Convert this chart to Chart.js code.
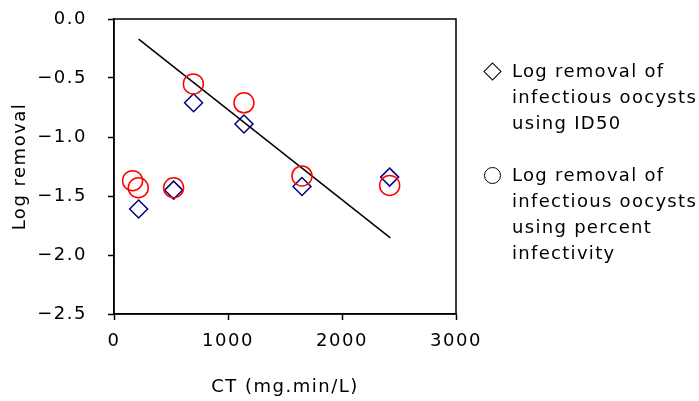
<!DOCTYPE html>
<html>
<head>
<meta charset="utf-8">
<script src="https://cdn.jsdelivr.net/npm/chart.js@4"></script>
<style>
  html, body { margin: 0; padding: 0; background: #fff; }
  #wrap { position: relative; width: 699px; height: 401px; }
  #legend { position: absolute; left: 480px; top: 58px; font-family: "DejaVu Sans", sans-serif; font-size: 18px; line-height: 26px; color: #000; letter-spacing: 1.3px; white-space: nowrap; }
  .item { position: relative; padding-left: 32px; margin-bottom: 26px; }
  .sym { position: absolute; left: 4px; top: 6px; width: 13px; height: 13px; border: 1px solid #000; box-sizing: border-box; }
  .dia { transform: rotate(45deg); left: 6px; top: 7px; }
  .circ { border-radius: 50%; width: 17px; height: 17px; left: 4px; top: 5px; }
</style>
</head>
<body>
<div id="wrap">
  <canvas id="c" width="699" height="401"></canvas>
  <div id="legend">
    <div class="item"><span class="sym dia"></span>Log removal of<br>infectious oocysts<br>using ID50</div>
    <div class="item"><span class="sym circ"></span>Log removal of<br>infectious oocysts<br>using percent<br>infectivity</div>
  </div>
</div>
<script>
// ===== 데이터 =====
var ID50_X = [216, 523, 698, 1140, 1649, 2418];
var ID50_Y = [-1.61, -1.45, -0.71, -0.89, -1.42, -1.34];
var PCT_X = [163, 213, 523, 696, 1140, 1649, 2418];
var PCT_Y = [-1.37, -1.43, -1.43, -0.55, -0.71, -1.33, -1.41];
var FIT_X = [216, 2424];
var FIT_Y = [-0.17, -1.855];
var X_TICKS = [0, 1000, 2000, 3000];
var Y_TICKS = [0, -0.5, -1.0, -1.5, -2.0, -2.5];

function pts(xs, ys) {
  var out = [];
  for (var i = 0; i < xs.length; i++) out.push({ x: xs[i], y: ys[i] });
  return out;
}

var FONT = { family: "'DejaVu Sans', sans-serif", size: 18 };

// 글자 간격 (원본 폰트가 넓어서)
var spacing = {
  id: "spacing",
  beforeLayout: function (chart) { chart.ctx.letterSpacing = "1.5px"; },
  beforeDraw: function (chart) { chart.ctx.letterSpacing = "1.5px"; }
};

// 플롯 영역 테두리
var frame = {
  id: "frame",
  afterDraw: function (chart) {
    var a = chart.chartArea, ctx = chart.ctx;
    ctx.save();
    ctx.strokeStyle = "#000";
    ctx.lineWidth = 1.5;
    ctx.strokeRect(a.left, a.top, a.right - a.left, a.bottom - a.top);
    ctx.restore();
  }
};

new Chart(document.getElementById("c"), {
  type: "scatter",
  data: {
    datasets: [
      { label: "fit", data: pts(FIT_X, FIT_Y), showLine: true, borderColor: "#000", borderWidth: 1.5, pointRadius: 0, order: 3 },
      { label: "ID50", data: pts(ID50_X, ID50_Y), pointStyle: "rectRot", pointRadius: 9, borderColor: "#000080", borderWidth: 1.5, backgroundColor: "rgba(0,0,0,0)", order: 2 },
      { label: "pct", data: pts(PCT_X, PCT_Y), pointStyle: "circle", pointRadius: 10, borderColor: "#FF0000", borderWidth: 1.5, backgroundColor: "rgba(0,0,0,0)", order: 1 }
    ]
  },
  options: {
    responsive: false,
    animation: false,
    events: [],
    layout: { padding: { left: 0, top: 19, right: 243, bottom: 0 } },
    plugins: { legend: { display: false }, tooltip: { enabled: false } },
    scales: {
      x: {
        type: "linear", min: 0, max: 3000,
        afterBuildTicks: function (s) { s.ticks = X_TICKS.map(function (v) { return { value: v }; }); },
        afterFit: function (s) { s.height = 87; s.paddingLeft = 0; s.paddingRight = 0; },
        grid: { drawOnChartArea: false, color: "#000", tickLength: 6, tickWidth: 1.5 },
        border: { color: "#000", width: 1.5 },
        ticks: { color: "#000", font: FONT, padding: 11, maxRotation: 0, callback: function (v) { return String(v); } },
        title: { display: true, text: "CT (mg.min/L)", color: "#000", font: FONT, padding: { top: 0, bottom: 3 } }
      },
      y: {
        type: "linear", min: -2.5, max: 0,
        afterBuildTicks: function (s) { s.ticks = Y_TICKS.map(function (v) { return { value: v }; }); },
        afterFit: function (s) { s.width = 114; s.paddingTop = 0; s.paddingBottom = 0; },
        grid: { drawOnChartArea: false, color: "#000", tickLength: 6, tickWidth: 1.5 },
        border: { color: "#000", width: 1.5 },
        ticks: { color: "#000", font: FONT, padding: 21, callback: function (v) { return (v < 0 ? "\u2212" : "") + Math.abs(v).toFixed(1); } },
        title: { display: true, text: "Log removal", color: "#000", font: FONT, padding: { top: 10, bottom: 0 } }
      }
    }
  },
  plugins: [spacing, frame]
});
</script>
</body>
</html>
